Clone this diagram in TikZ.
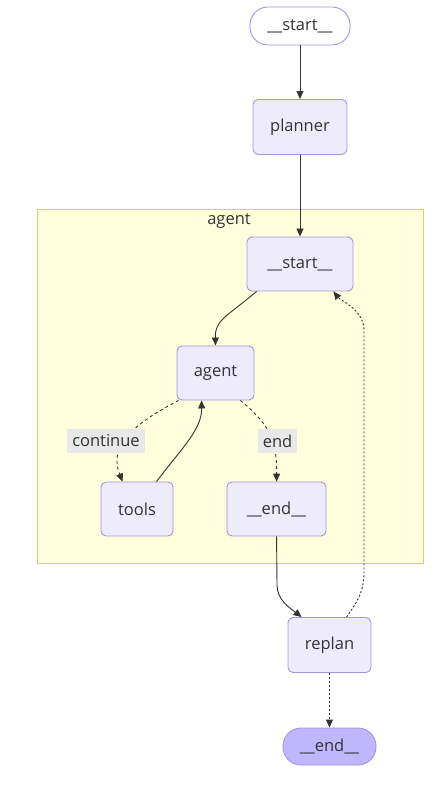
\documentclass[tikz,border=0pt]{standalone}
\usepackage{fontspec}
\setmainfont{Open Sans}
\usetikzlibrary{arrows.meta,calc}
\definecolor{nodefill}{HTML}{EEEBFD}
\definecolor{nodestroke}{HTML}{A793E0}
\definecolor{clusterfill}{HTML}{FFFFDE}
\definecolor{clusterstroke}{HTML}{CFCF80}
\definecolor{txt}{HTML}{333333}
\definecolor{lastfill}{HTML}{BFB6FC}
\definecolor{lblbg}{HTML}{E8E8E8}
\tikzset{
  box/.style={draw=nodestroke, fill=nodefill, rounded corners=5pt, line width=0.9pt,
    text=txt, font=\fontsize{16.5}{19}\selectfont, inner sep=0pt},
  pill/.style={box, rounded corners=18pt},
  edge/.style={draw=txt, line width=0.9pt, -{Triangle[length=8pt,width=7pt]}},
  dashededge/.style={edge, dash pattern=on 3pt off 3pt},
  lbl/.style={fill=lblbg, text=txt, font=\fontsize{16.5}{19}\selectfont, inner sep=0pt,
    minimum height=24pt},
}
\begin{document}
\begin{tikzpicture}[x=1pt,y=-1pt]
\useasboundingbox[fill=white] (0,0) rectangle (441,786);
% cluster
\node[draw=clusterstroke, fill=clusterfill, line width=0.9pt, minimum width=386pt, minimum height=354pt, inner sep=0pt] (cluster) at (230,386) {};
\node[text=txt, font=\fontsize{16.5}{19}\selectfont, anchor=center] (clabel) at (229,221) {agent};
% nodes
\node[pill, fill=white, minimum width=100pt, minimum height=38pt] (start) at (300,26) {\_\_start\_\_};
\node[box, minimum width=94pt, minimum height=55pt] (planner) at (300,127) {planner};
\node[box, minimum width=106pt, minimum height=54pt] (istart) at (300,264) {\_\_start\_\_};
\node[box, minimum width=77pt, minimum height=54pt] (agent) at (215.5,373) {agent};
\node[box, minimum width=72pt, minimum height=54pt] (tools) at (137,509) {tools};
\node[box, minimum width=99pt, minimum height=54pt] (iend) at (276.5,509) {\_\_end\_\_};
\node[box, minimum width=83pt, minimum height=55pt] (replan) at (329.5,645) {replan};
\node[pill, fill=lastfill, minimum width=93pt, minimum height=37pt] (end) at (329.5,746.5) {\_\_end\_\_};
% edges
\draw[edge] (start) -- (planner);
\draw[edge] (planner) -- (istart);
\draw[edge] ($(istart.south west)+(10,0)$) .. controls (225,318) and (215,320) .. (agent.north);
\draw[dashededge] ($(agent.south west)+(2,0)$) .. controls (125,428) and (110,450) .. ($(tools.north west)+(22,0)$);
\draw[edge] ($(tools.north west)+(56,0)$) .. controls (180,450) and (202,430) .. ($(agent.south west)+(25,0)$);
\draw[dashededge] ($(agent.south east)+(-14,0)$) .. controls (270,425) and (277,440) .. ($(iend.north west)+(50,0)$);
\draw[edge] ($(iend.south west)+(50,0)$) -- (277,585) .. controls (277,600) and (290,608) .. ($(replan.north west)+(14,0)$);
\draw[dashededge, dash pattern=on 2pt off 2pt] ($(replan.north west)+(59,0)$) .. controls (360,598) and (364,590) .. (364,570) -- (364,330) .. controls (364,310) and (340,300) .. ($(istart.south east)+(-20,0)$);
\draw[dashededge, dash pattern=on 2pt off 2pt] (replan) -- (end);
% edge labels
\node[lbl, minimum width=78pt] (lcont) at (106,441) {continue};
\node[lbl, minimum width=39pt] (lend) at (277.5,441) {end};
\end{tikzpicture}
\end{document}
